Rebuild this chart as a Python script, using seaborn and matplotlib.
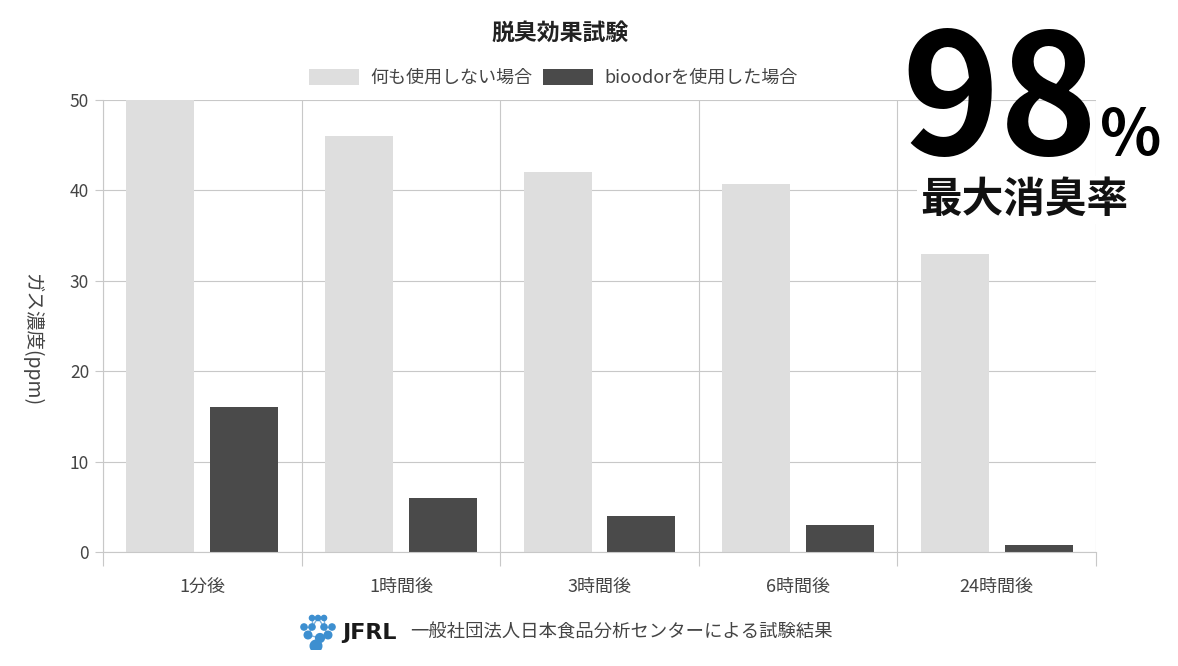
import matplotlib
matplotlib.use("Agg")
import matplotlib.pyplot as plt
import pandas as pd
import seaborn as sns
from matplotlib.patches import Patch

categories = ["1分後", "1時間後", "3時間後", "6時間後", "24時間後"]
series_names = ["何も使用しない場合", "bioodorを使用した場合"]
no_product = [50, 46, 42, 40.7, 33]
with_bioodor = [16, 6, 4, 3, 0.8]
y_ticks = [0, 10, 20, 30, 40, 50]

title = "脱臭効果試験"
y_label = "ガス濃度(ppm)"
big_number = "98"
big_unit = "%"
big_caption = "最大消臭率"
source_logo = "JFRL"
source_text = "一般社団法人日本食品分析センターによる試験結果"

light = "#dedede"
dark = "#4a4a4a"
grid_c = "#c8c8c8"
text_c = "#444444"


def get_data() -> pd.DataFrame:
    rows = []
    for cat, a, b in zip(categories, no_product, with_bioodor):
        rows.append({"time": cat, "series": series_names[0], "value": a})
        rows.append({"time": cat, "series": series_names[1], "value": b})
    return pd.DataFrame(rows)


sns.set_theme(style="white")
plt.rcParams["font.family"] = ["Noto Sans CJK JP", "DejaVu Sans"]

df = get_data()
fig = plt.figure(figsize=(11.78, 6.66), dpi=100)
ax = fig.add_axes([103 / 1178, 1 - 552 / 666, (1096 - 103) / 1178, (552 - 100) / 666])

sns.barplot(
    data=df, x="time", y="value", hue="series",
    order=categories, hue_order=series_names,
    palette=[light, dark], width=0.844, gap=0.19,
    linewidth=0, saturation=1, legend=False, ax=ax,
)

ax.set_xlim(-0.5, len(categories) - 0.5)
ax.set_ylim(0, 50)
ax.set_yticks(y_ticks)
ax.set_xticks(range(len(categories)))
ax.set_xticks([i - 0.5 for i in range(len(categories) + 1)], minor=True)
ax.set_xticklabels(categories)
ax.tick_params(axis="x", which="major", length=0, pad=19, labelsize=13, labelcolor=text_c)
ax.tick_params(axis="x", which="minor", length=10, width=0.8, color=grid_c, direction="out", bottom=True)
ax.tick_params(axis="y", length=6, width=0.8, color=grid_c, labelsize=12.5, labelcolor=text_c, left=True, pad=4)
ax.grid(axis="y", color=grid_c, linewidth=0.8)
ax.grid(axis="x", which="minor", color=grid_c, linewidth=0.8)
ax.set_axisbelow(True)
for side in ["top", "right"]:
    ax.spines[side].set_visible(False)
for side in ["left", "bottom"]:
    ax.spines[side].set_color(grid_c)
    ax.spines[side].set_linewidth(0.8)
ax.set_xlabel("")
ax.set_ylabel("")

fig.text(32 / 1178, 1 - 340 / 666, y_label, rotation=270, ha="center", va="center",
         fontsize=14, color=text_c)

fig.text(560 / 1178, 1 - 33 / 666, title, ha="center", va="center",
         fontsize=16.5, fontweight="bold", color="#222222")

handles = [Patch(facecolor=light, edgecolor="none"), Patch(facecolor=dark, edgecolor="none")]
fig.legend(handles, series_names, loc="center", bbox_to_anchor=(553 / 1178, 1 - 78 / 666),
           ncol=2, frameon=False, fontsize=13, handlelength=2.8, handleheight=1.0,
           columnspacing=0.6, handletextpad=0.6, labelcolor=text_c)

fig.text(1000 / 1178, 1 - 155 / 666, big_number, ha="center", va="baseline",
         fontsize=120, fontweight="bold", color="black")
fig.text(1100 / 1178, 1 - 155 / 666, big_unit, ha="left", va="baseline",
         fontsize=46, fontweight="bold", color="black")
fig.text(1024 / 1178, 1 - 200 / 666, big_caption, ha="center", va="center",
         fontsize=30, fontweight="bold", color="#111111",
         bbox=dict(facecolor="white", edgecolor="none", pad=2))

# logo dots
logo_ax = fig.add_axes([298 / 1178, 1 - 650 / 666, 40 / 1178, 36 / 666])
logo_ax.set_axis_off()
logo_ax.set_xlim(0, 40)
logo_ax.set_ylim(36, 0)
pts = [(14, 4), (20, 4), (26, 4), (6, 13), (14, 13), (26, 13), (34, 13), (10, 21), (30, 21), (22, 24), (18, 32)]
links = [(0, 4), (2, 5), (3, 4), (4, 7), (5, 6), (5, 8), (7, 9), (8, 9), (9, 10), (1, 4), (1, 5)]
for a, b in links:
    logo_ax.plot([pts[a][0], pts[b][0]], [pts[a][1], pts[b][1]], color="#7fb2dc", lw=1)
logo_ax.scatter([p[0] for p in pts], [p[1] for p in pts],
                s=[14, 14, 14, 20, 20, 20, 20, 30, 30, 40, 70], color="#3d8fd0", zorder=3)

fig.text(342 / 1178, 1 - 633 / 666, source_logo, ha="left", va="center",
         fontsize=16, fontweight="bold", color="#1a1a1a", family=["DejaVu Sans"])
fig.text(410 / 1178, 1 - 633 / 666, source_text, ha="left", va="center",
         fontsize=13.2, color=text_c)

fig.savefig("out.png", dpi=100)
